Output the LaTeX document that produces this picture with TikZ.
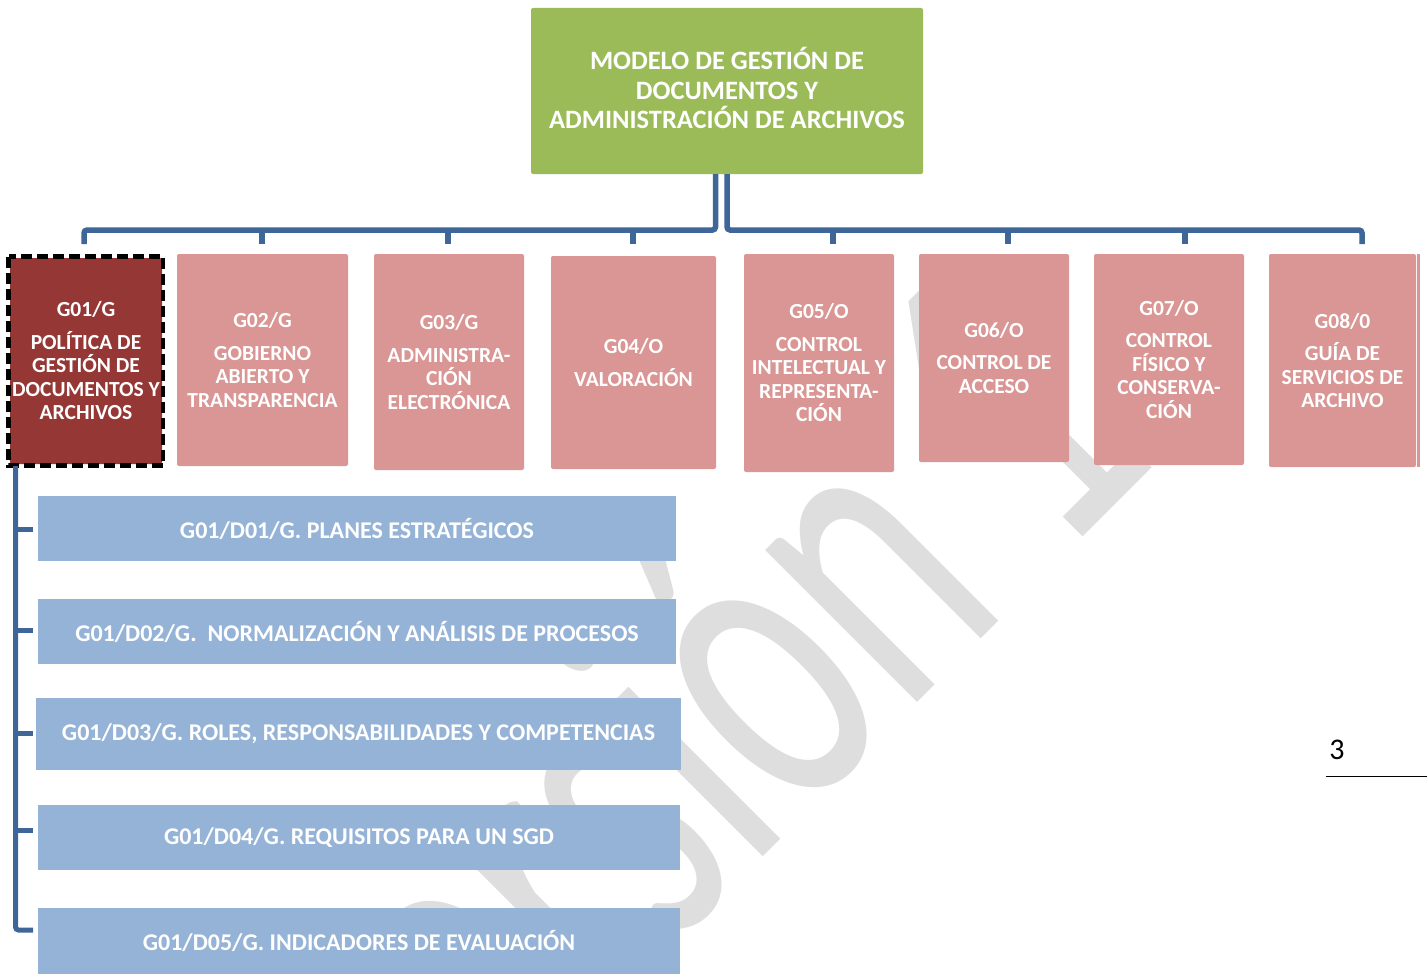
\documentclass[tikz,border=0pt]{standalone}
\usepackage{fontspec}
\setmainfont{Carlito}
\definecolor{greenc}{HTML}{9BBB59}
\definecolor{pinkc}{HTML}{D99694}
\definecolor{darkred}{HTML}{953735}
\definecolor{bluec}{HTML}{95B3D7}
\definecolor{connc}{HTML}{3F6699}
\definecolor{wmc}{HTML}{DEDEDE}
\tikzset{
  topbox/.style={fill=greenc, rounded corners=2pt, inner sep=0pt},
  toptext/.style={inner sep=0pt, align=center, text=white,
    font=\bfseries\fontsize{26.5}{29.5}\selectfont},
  gbox/.style={fill=pinkc, rounded corners=2pt, inner sep=0pt, align=center, text=white,
    font=\bfseries\fontsize{21.5}{23.5}\selectfont},
  selbox/.style={gbox, fill=darkred},
  dbox/.style={fill=bluec, inner sep=0pt, align=center, text=white,
    font=\bfseries\fontsize{24}{28}\selectfont},
  conn/.style={draw=connc, line width=5.5pt, rounded corners=3pt},
  wm/.style={text=wmc, font=\fontsize{450}{450}\selectfont, inner sep=0pt}
}
\begin{document}
\begin{tikzpicture}[x=1pt,y=-1pt]
\useasboundingbox (0,0) rectangle (1427,974);
% watermark
\node[wm, rotate=45, anchor=base east] (wmark) at (1162,458) {\scalebox{0.645}[1]{Versión 1}};

% top box
\node[topbox, minimum width=392pt, minimum height=166pt] (top) at (727,91) {};
\node[toptext] (toptxt) at (727,88)
  {MODELO DE GESTIÓN DE\\DOCUMENTOS Y\\ADMINISTRACIÓN DE ARCHIVOS};

% second-level boxes
\node[selbox, minimum width=152pt, minimum height=206pt] (g1) at (86,361)
  {G01/G\\[9pt]POLÍTICA DE\\GESTIÓN DE\\DOCUMENTOS Y\\ARCHIVOS};
\draw[black, line width=4.5pt, dash pattern=on 11pt off 5pt] (8.5,256.5) rectangle (163,465.5);
\node[gbox, minimum width=171pt, minimum height=212pt] (g2) at (262.5,360)
  {G02/G\\[9pt]GOBIERNO\\ABIERTO Y\\TRANSPARENCIA};
\node[gbox, minimum width=150pt, minimum height=216pt] (g3) at (449,362)
  {G03/G\\[9pt]ADMINISTRA-\\CIÓN\\ELECTRÓNICA};
\node[gbox, minimum width=165pt, minimum height=213pt] (g4) at (633.5,362.5)
  {G04/O\\[9pt]VALORACIÓN};
\node[gbox, minimum width=150pt, minimum height=218pt] (g5) at (819,363)
  {G05/O\\[9pt]CONTROL\\INTELECTUAL Y\\REPRESENTA-\\CIÓN};
\node[gbox, minimum width=150pt, minimum height=208pt] (g6) at (994,358)
  {G06/O\\[9pt]CONTROL DE\\ACCESO};
\node[gbox, minimum width=150pt, minimum height=211pt] (g7) at (1169,359.5)
  {G07/O\\[9pt]CONTROL\\FÍSICO Y\\CONSERVA-\\CIÓN};
\node[gbox, minimum width=147pt, minimum height=213pt] (g8) at (1342.5,360.5)
  {G08/0\\[9pt]GUÍA DE\\SERVICIOS DE\\ARCHIVO};
\fill[pinkc] (1417,254) rectangle (1419.5,467);

% connectors top
\coordinate (jl) at (715.5,230);
\coordinate (jr) at (727,230);
\coordinate (p1) at (84,244);
\coordinate (p2) at (262,244);
\coordinate (p3) at (448,244);
\coordinate (p4) at (633,244);
\coordinate (p5) at (833,244);
\coordinate (p6) at (1008,244);
\coordinate (p7) at (1185,244);
\coordinate (p8) at (1362,244);
\draw[conn] (top.south -| jl) -- (jl) -- (jl -| p1) -- (p1);
\draw[conn] (top.south -| jr) -- (jr) -- (jr -| p8) -- (p8);
\foreach \p in {p2,p3,p4}{\draw[conn] (jl -| \p) -- (\p);}
\foreach \p in {p5,p6,p7}{\draw[conn] (jr -| \p) -- (\p);}

% blue boxes
\node[dbox, minimum width=638pt, minimum height=65pt] (d1) at (357,528.5)
  {G01/D01/G. PLANES ESTRATÉGICOS};
\node[dbox, minimum width=638pt, minimum height=65pt] (d2) at (357,631.5)
  {G01/D02/G.\ \ NORMALIZACIÓN Y ANÁLISIS DE PROCESOS};
\node[dbox, minimum width=645pt, minimum height=72pt] (d3) at (358.5,734)
  {G01/D03/G. ROLES, RESPONSABILIDADES Y COMPETENCIAS};
\node[dbox, minimum width=642pt, minimum height=65pt] (d4) at (359,837.5)
  {G01/D04/G. REQUISITOS PARA UN SGD};
\node[dbox, minimum width=642pt, minimum height=66pt] (d5) at (359,941)
  {G01/D05/G. INDICADORES DE EVALUACIÓN};

% left connectors
\coordinate (lv) at (15.5,466);
\coordinate (t1) at (33,529);
\coordinate (t2) at (33,630);
\coordinate (t3) at (33,733);
\coordinate (t4) at (33,830);
\coordinate (t5) at (33,930);
\draw[conn, line width=5pt] (lv) |- (t5);
\foreach \t in {t1,t2,t3,t4}{\draw[conn, line width=5pt] (lv |- \t) -- (\t);}

% page number
\node[font=\fontsize{30}{30}\selectfont, inner sep=0pt] (pg) at (1337,750) {3};
\draw[black, line width=1.5pt] (1326,776.5) -- (1427,776.5);
\end{tikzpicture}
\end{document}
